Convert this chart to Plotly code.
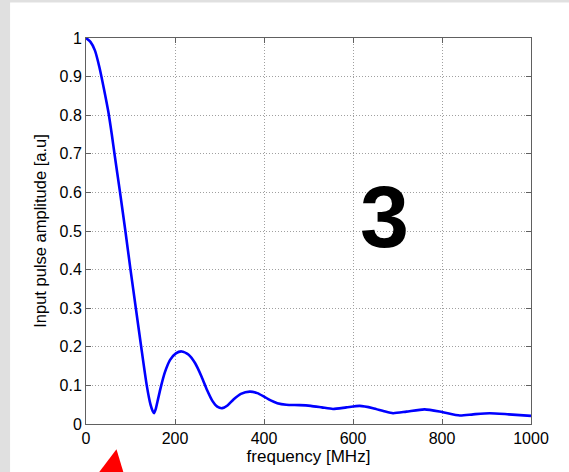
import plotly.graph_objects as go

freq_mhz = [0, 10, 20, 30, 40, 50, 58, 64, 76.5, 88.5, 100, 112, 124, 136.5, 145, 150, 153,
            157, 162, 168, 177, 189, 202, 215, 230, 245, 260, 272, 284, 295, 306, 318, 332,
            348, 368, 385, 400, 415, 430, 450, 480, 505, 530, 555, 585, 615, 645, 670, 690,
            720, 761, 800, 840, 870, 907, 950, 1000]
amplitude = [1.0, 0.99, 0.968, 0.925, 0.87, 0.81, 0.75, 0.7, 0.6, 0.5, 0.4, 0.3, 0.2, 0.1,
             0.05, 0.033, 0.028, 0.04, 0.065, 0.095, 0.133, 0.166, 0.183, 0.188, 0.18, 0.158,
             0.122, 0.088, 0.06, 0.045, 0.041, 0.048, 0.064, 0.078, 0.084, 0.08, 0.071, 0.061,
             0.054, 0.05, 0.049, 0.047, 0.043, 0.039, 0.043, 0.047, 0.041, 0.033, 0.028, 0.032,
             0.038, 0.031, 0.022, 0.025, 0.028, 0.025, 0.021]

x_ticks = [0, 200, 400, 600, 800, 1000]
y_ticks = [0, 0.1, 0.2, 0.3, 0.4, 0.5, 0.6, 0.7, 0.8, 0.9, 1]
y_tick_text = ["0", "0.1", "0.2", "0.3", "0.4", "0.5", "0.6", "0.7", "0.8", "0.9", "1"]

font_family = "Liberation Sans, Arial, sans-serif"

fig = go.Figure()
fig.add_trace(go.Scatter(
    x=freq_mhz, y=amplitude, mode="lines",
    line=dict(color="#0000ff", width=2.6, shape="spline", smoothing=0.6),
    showlegend=False, hoverinfo="skip",
))

axis_common = dict(
    showline=True, mirror="ticks", linecolor="#606060", linewidth=1,
    ticks="inside", ticklen=5, tickcolor="#606060",
    showgrid=True, gridcolor="#a0a0a0", griddash="1px,2px", gridwidth=1,
    zeroline=False, tickfont=dict(family=font_family, size=16, color="#000000"),
)

fig.update_xaxes(range=[0, 1000], tickvals=x_ticks, ticktext=[str(v) for v in x_ticks],
                 title=dict(text="frequency [MHz]", font=dict(family=font_family, size=17, color="#000"),
                            standoff=0),
                 **axis_common)
fig.update_yaxes(range=[0, 1], tickvals=y_ticks, ticktext=y_tick_text,
                 title=dict(text="Input pulse amplitude [a.u]", font=dict(family=font_family, size=16.5, color="#000"),
                            standoff=8),
                 **axis_common)

fig.add_annotation(x=671, y=0.538, xref="x", yref="y", text="<b>3</b>", showarrow=False,
                   font=dict(family=font_family, size=88, color="#000000"),
                   xanchor="center", yanchor="middle")

# white panel over the grey frame
fig.add_shape(type="rect", xref="paper", yref="paper", x0=-0.1706, x1=1.6, y0=-0.3, y1=1.092,
              fillcolor="#ffffff", line=dict(width=0), layer="below")
# red arrow head (cut off at bottom)
fig.add_shape(type="path", xref="paper", yref="paper",
              path="M 0.0685 -0.0656 L 0.0162 -0.145 L 0.0893 -0.145 Z",
              fillcolor="#ff0000", line=dict(width=0), layer="above")

fig.update_layout(
    width=569, height=472,
    margin=dict(l=86, r=38, t=38, b=48),
    paper_bgcolor="#e0e0e0", plot_bgcolor="rgba(0,0,0,0)",
    font=dict(family=font_family),
)

fig.write_html("out.html", config={"displayModeBar": False},
               post_script="document.body.style.margin='0';document.body.style.overflow='hidden';")
